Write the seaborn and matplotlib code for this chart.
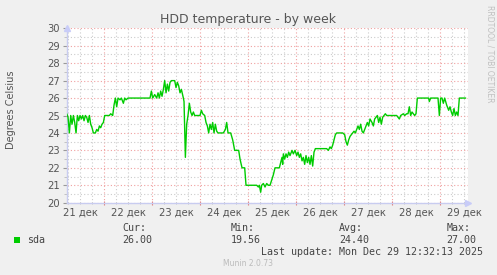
import matplotlib
matplotlib.use("Agg")
import matplotlib.pyplot as plt
from matplotlib.patches import Rectangle
from matplotlib.ticker import MultipleLocator
import pandas as pd
import seaborn as sns

# ---- data (hours since 21 Dec 00:00, temperature in °C) ----
hours = [5.18, 5.85, 6.52, 7.18, 7.85, 8.52, 9.18, 9.85, 10.52, 11.18, 11.85, 12.52, 13.18,
         13.85, 14.52, 15.18, 15.85, 16.52, 17.18, 17.85, 18.52, 19.52, 20.18, 20.85, 21.52,
         22.18, 22.85, 23.52, 24.18, 26.52, 27.18, 28.18, 28.85, 29.52, 30.18, 30.85, 31.85,
         32.52, 33.52, 34.18, 34.85, 35.85, 46.85, 47.52, 48.18, 49.18, 50.18, 50.85, 51.52,
         52.18, 52.85, 53.52, 54.18, 54.85, 55.52, 56.18, 56.85, 57.52, 59.18, 59.85, 60.52,
         61.18, 61.85, 62.52, 63.52, 63.85, 64.52, 65.18, 65.85, 66.52, 67.18, 67.85, 68.52,
         69.18, 71.85, 72.52, 73.18, 74.18, 74.85, 75.52, 76.18, 76.85, 77.52, 78.18, 78.85,
         79.52, 80.18, 80.85, 83.52, 84.52, 85.18, 85.85, 87.18, 88.18, 89.18, 91.18, 91.85,
         92.85, 94.18, 94.85, 100.18, 101.02, 101.52, 102.18, 102.68, 103.52, 104.35, 105.18,
         106.02, 106.85, 107.68, 108.52, 109.35, 111.52, 112.18, 112.85, 113.18, 113.52,
         114.18, 114.85, 115.52, 116.18, 116.85, 117.85, 118.52, 119.35, 120.18, 120.85,
         121.52, 122.18, 122.85, 123.52, 124.18, 124.85, 125.52, 126.18, 126.85, 127.52,
         128.18, 128.85, 129.52, 135.18, 136.02, 136.85, 137.52, 138.18, 138.85, 139.52,
         140.18, 143.18, 144.18, 144.85, 145.52, 146.18, 146.85, 147.52, 148.18, 148.85,
         149.52, 150.18, 150.85, 151.52, 152.18, 152.85, 153.52, 154.18, 154.85, 155.52,
         156.18, 156.85, 157.85, 158.52, 159.18, 159.85, 160.52, 161.18, 161.85, 162.52,
         163.18, 163.85, 164.52, 165.18, 170.18, 170.85, 171.52, 172.18, 173.52, 174.18,
         175.18, 175.85, 176.52, 177.18, 177.85, 178.52, 179.18, 179.85, 180.52, 186.18,
         186.52, 187.18, 190.85, 191.52, 192.18, 192.85, 193.52, 194.18, 195.18, 196.18,
         196.85, 197.52, 198.18, 198.85, 199.52, 200.18, 200.85, 201.52, 204.68]
temps = [25.1, 24.9, 24.0, 25.0, 24.5, 25.0, 24.6, 24.0, 25.0, 24.7, 25.0, 24.8, 25.0,
         24.7, 25.0, 24.9, 24.6, 25.0, 24.5, 24.3, 24.0, 24.0, 24.2, 24.1, 24.4,
         24.3, 24.5, 24.6, 25.0, 25.0, 25.1, 25.0, 25.6, 26.0, 25.5, 26.0, 25.9,
         26.0, 25.7, 26.0, 25.9, 26.0, 26.0, 26.4, 26.0, 26.2, 26.0, 26.3, 26.0,
         26.4, 26.1, 26.5, 27.0, 26.3, 26.8, 26.4, 26.9, 27.0, 27.0, 26.6, 26.9,
         26.7, 26.3, 26.5, 26.0, 25.8, 22.6, 24.5, 25.0, 25.7, 25.2, 25.0, 25.2,
         25.0, 25.0, 25.3, 25.1, 25.0, 24.6, 24.4, 24.0, 24.5, 24.2, 24.6, 24.0,
         24.5, 24.1, 24.0, 24.0, 24.2, 24.6, 24.0, 24.0, 23.6, 23.0, 23.0, 22.5,
         22.0, 22.0, 21.0, 21.0, 20.9, 21.0, 20.6, 21.0, 21.1, 20.9, 21.1,
         21.0, 21.0, 21.3, 21.6, 22.0, 22.0, 22.3, 22.6, 22.2, 22.8,
         22.5, 22.8, 22.6, 22.9, 22.7, 23.0, 22.8, 23.0, 22.7, 22.9,
         22.6, 22.8, 22.4, 22.6, 22.2, 22.7, 22.3, 22.6, 22.2, 22.7,
         22.1, 22.9, 23.1, 23.1, 23.0, 23.2, 23.1, 23.3, 23.6, 23.9,
         24.0, 24.0, 23.9, 23.5, 23.3, 23.6, 23.8, 23.9, 24.0, 24.1,
         24.0, 24.2, 24.4, 24.2, 24.5, 24.1, 24.0, 24.2, 24.4, 24.6,
         24.4, 24.8, 24.6, 24.4, 24.8, 24.9, 25.0, 24.6, 24.9, 24.5,
         24.9, 25.0, 25.1, 25.0, 25.0, 24.9, 24.8, 25.0, 25.1, 25.0,
         25.1, 25.1, 25.5, 25.0, 25.2, 25.1, 25.0, 25.1, 26.0, 26.0,
         25.8, 26.0, 26.0, 25.0, 26.0, 26.0, 25.7, 26.0, 25.6, 25.3,
         25.5, 25.2, 25.0, 25.4, 25.0, 25.2, 25.0, 26.0, 26.0]
day_label_hours = [12, 36, 60, 84, 108, 132, 156, 180, 204]
day_labels = ["21 дек", "22 дек", "23 дек", "24 дек", "25 дек", "26 дек", "27 дек", "28 дек", "29 дек"]
series_name = "sda"
stat_names = ["Cur:", "Min:", "Avg:", "Max:"]
stat_values = ["26.00", "19.56", "24.40", "27.00"]
title = "HDD temperature - by week"
y_label = "Degrees Celsius"
last_update = "Last update: Mon Dec 29 12:32:13 2025"
footer = "Munin 2.0.73"
side_text = "RRDTOOL / TOBI OETIKER"

sns.set_style("white")
plt.rcParams["font.family"] = ["DejaVu Sans"]

W, H = 497, 275
def fx(px):
    return px / W
def fy(py):
    return 1 - py / H

fig = plt.figure(figsize=(W / 100, H / 100), dpi=100, facecolor="#F0F0F0")
L, R, T, B = 66.7, 468.3, 28.3, 202.7
ax = fig.add_axes([fx(L), fy(B), (R - L) / W, (B - T) / H])
ax.set_facecolor("white")

df = pd.DataFrame({"hours": hours, "temp": temps})
sns.lineplot(data=df, x="hours", y="temp", ax=ax, color="#00CC00", linewidth=1.0, zorder=3)

ax.set_xlim(5.18, 206.0)
ax.set_ylim(20, 30)
ax.set_xlabel("")
ax.set_ylabel("")

ax.xaxis.set_major_locator(MultipleLocator(24))
ax.xaxis.set_minor_locator(MultipleLocator(6))
ax.yaxis.set_major_locator(MultipleLocator(1))
ax.yaxis.set_minor_locator(MultipleLocator(0.5))
ax.set_xticklabels([])
ax.grid(which="minor", color="#CCCCCC", linestyle=(0, (1, 2)), linewidth=0.8)
ax.grid(which="major", color="#F0A0A0", linestyle=(0, (1, 2)), linewidth=0.8)
ax.set_axisbelow(True)

ax.tick_params(axis="y", which="major", length=3, color="#999999", labelsize=7.2,
               labelcolor="#555555", pad=2)
ax.tick_params(axis="y", which="minor", length=2, color="#BBBBBB")
ax.tick_params(axis="x", which="major", length=3, color="#E08080", direction="inout")
ax.tick_params(axis="x", which="minor", length=2, color="#BBBBBB", direction="inout")
ax.tick_params(axis="x", which="both", bottom=True)
ax.tick_params(axis="y", which="both", left=True)

for s in ["top", "right"]:
    ax.spines[s].set_visible(False)
for s in ["left", "bottom"]:
    ax.spines[s].set_color("#C8CCF0")
    ax.spines[s].set_linewidth(1.0)

# axis arrows
ax.plot([0], [1.0], marker="^", markersize=5, color="#C8CCF8", transform=ax.transAxes,
        clip_on=False, zorder=5)
ax.plot([1.0], [0], marker=">", markersize=5, color="#C8CCF8", transform=ax.transAxes,
        clip_on=False, zorder=5)

xt = ax.get_xaxis_transform()
for h, lab in zip(day_label_hours, day_labels):
    ax.text(h, -0.059, lab, transform=xt, ha="center", va="center", fontsize=7.2,
            color="#555555")

fig.text(fx(248), fy(19.5), title, ha="center", va="center", fontsize=9, color="#555555")
fig.text(fx(11), fy(110), y_label, rotation=90, ha="center", va="center", fontsize=7,
         color="#555555")
fig.text(fx(490), fy(5), side_text, rotation=270, ha="center", va="top", fontsize=5.5,
         color="#C0C0C0")

mono = "DejaVu Sans Mono"
fig.add_artist(Rectangle((fx(14), fy(243)), 6 / W, 6 / H, transform=fig.transFigure,
                         facecolor="#00CC00", edgecolor="none"))
fig.text(fx(26.7), fy(240), series_name, family=mono, fontsize=7.2, color="#444444",
         ha="left", va="center")
stat_x = [122.3, 231, 339, 446.7]
for x, n, v in zip(stat_x, stat_names, stat_values):
    fig.text(fx(x), fy(228), n, family=mono, fontsize=7.2, color="#444444", ha="left", va="center")
    fig.text(fx(x), fy(240), v, family=mono, fontsize=7.2, color="#444444", ha="left", va="center")
fig.text(fx(483), fy(252), last_update, family=mono, fontsize=7.2, color="#444444",
         ha="right", va="center")
fig.text(fx(248), fy(264), footer, fontsize=5.5, color="#BBBBBB", ha="center", va="center")

fig.savefig("out.png", dpi=100, facecolor=fig.get_facecolor())
